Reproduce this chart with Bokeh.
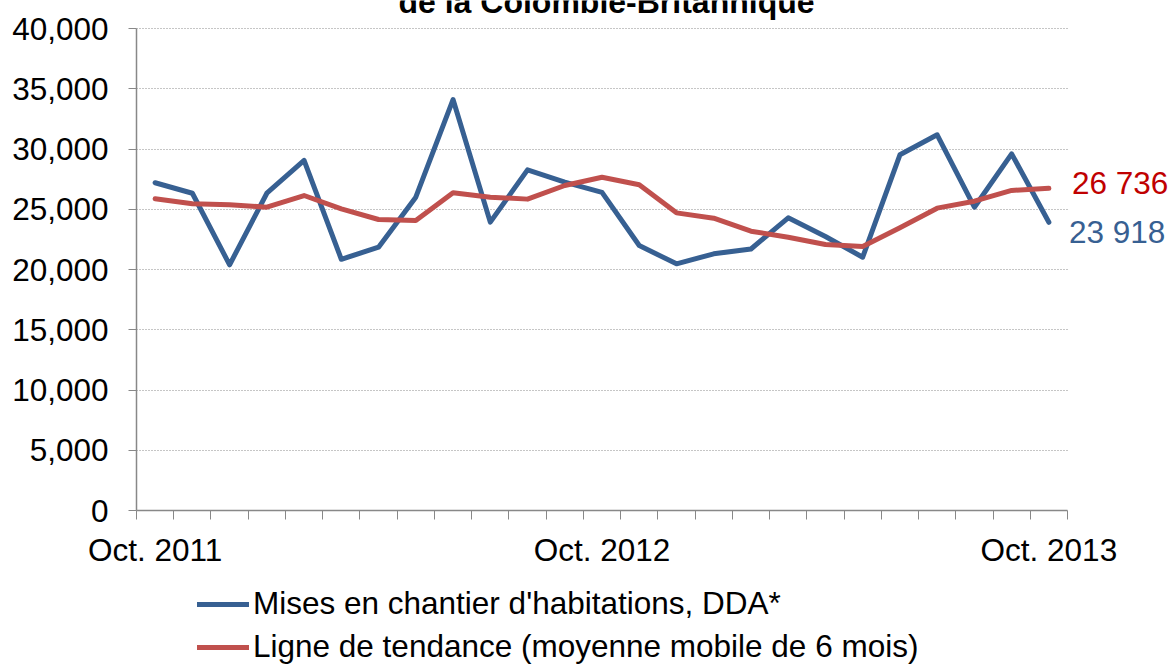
from bokeh.plotting import figure
from bokeh.layouts import column
from bokeh.models import (FixedTicker, NumeralTickFormatter, Label, Legend, LegendItem,
                          ColumnDataSource, Range1d, Grid)
from bokeh.embed import file_html
from bokeh.resources import INLINE

months = ["Oct. 2011", "Nov. 2011", "Déc. 2011", "Jan. 2012", "Févr. 2012", "Mars 2012",
          "Avr. 2012", "Mai 2012", "Juin 2012", "Juil. 2012", "Août 2012", "Sept. 2012",
          "Oct. 2012", "Nov. 2012", "Déc. 2012", "Jan. 2013", "Févr. 2013", "Mars 2013",
          "Avr. 2013", "Mai 2013", "Juin 2013", "Juil. 2013", "Août 2013", "Sept. 2013",
          "Oct. 2013"]
starts = [27200, 26330, 20390, 26330, 29050, 20850, 21850, 26000, 34100, 23930, 28270, 27250,
          26400, 21990, 20470, 21300, 21700, 24290, 22740, 21020, 29520, 31180, 25170, 29600,
          23918]
trend = [25870, 25450, 25370, 25170, 26140, 25030, 24150, 24070, 26370, 26000, 25840, 26970,
         27660, 27030, 24700, 24260, 23180, 22680, 22080, 21910, 23460, 25090, 25670, 26560,
         26736]
y_ticks = [0, 5000, 10000, 15000, 20000, 25000, 30000, 35000, 40000]
title_text = "de la Colombie-Britannique"
series_names = ["Mises en chantier d'habitations, DDA*",
                "Ligne de tendance (moyenne mobile de 6 mois)"]

BLUE = "#376092"
RED = "#C0504D"
FONT = "Liberation Sans"
FS = "31.5px"

# layout (pixels)
W, H = 1171, 664
LEFT = 136                 # left border of the chart
AXIS_BOTTOM = 510          # y of the x axis line
XAX_H = 64                 # room under the x axis for its labels
H1 = AXIS_BOTTOM + XAX_H   # main chart height; legend strip takes the rest
AXIS_W, AXIS_H = 931, 482  # length of the drawn axes
n = len(months)
x_lo, y_lo, y_hi = -0.5, 0, 40000
x_hi_axis = n - 0.5
x_end = x_lo + (W - LEFT) * (x_hi_axis - x_lo) / AXIS_W
y_end = y_hi * AXIS_BOTTOM / AXIS_H

idx = list(range(n))
src = ColumnDataSource(dict(x=idx, starts=starts, trend=trend))

p = figure(width=W, height=H1, output_backend="svg", toolbar_location=None,
           x_range=Range1d(x_lo, x_end), y_range=Range1d(y_lo, y_end),
           min_border_left=LEFT, min_border_right=0, min_border_top=0, min_border_bottom=XAX_H)
p.outline_line_color = None
p.background_fill_color = "white"
p.border_fill_color = "white"

p.xgrid.visible = False
p.ygrid.visible = False
if "cross_bounds" in Grid.properties():
    g = Grid(dimension=1, ticker=FixedTicker(ticks=y_ticks), cross_bounds=(x_lo, x_hi_axis),
             grid_line_color="#8c8c8c", grid_line_dash="1 2", grid_line_width=1)
    p.add_layout(g)
else:
    p.segment(x0=[x_lo] * len(y_ticks), x1=[x_hi_axis] * len(y_ticks), y0=y_ticks, y1=y_ticks,
              line_color="#8c8c8c", line_dash="1 2", line_width=1)

# x axis
label_idx = [i for i, m in enumerate(months) if m.startswith("Oct.")]
xa = p.xaxis[0]
xa.bounds = (x_lo, x_hi_axis)
xa.ticker = FixedTicker(ticks=label_idx, minor_ticks=[i - 0.5 for i in range(n + 1)])
xa.major_label_overrides = {i: months[i] for i in label_idx}
xa.major_tick_line_color = None
xa.major_tick_out = 9
xa.major_tick_in = 0
xa.minor_tick_line_color = "#888888"
xa.minor_tick_out = 9
xa.minor_tick_in = 0
xa.axis_line_color = "#888888"
xa.axis_line_width = 1.5
xa.major_label_standoff = 12
xa.major_label_text_font = FONT
xa.major_label_text_font_size = FS
xa.major_label_text_color = "black"

# y axis
ya = p.yaxis[0]
ya.bounds = (y_lo, y_hi)
ya.ticker = FixedTicker(ticks=y_ticks)
ya.formatter = NumeralTickFormatter(format="0,0")
ya.major_tick_out = 8
ya.major_tick_in = 0
ya.minor_tick_line_color = None
ya.major_tick_line_color = "#888888"
ya.axis_line_color = "#888888"
ya.axis_line_width = 1.5
ya.major_label_standoff = 20
ya.major_label_text_font = FONT
ya.major_label_text_font_size = FS
ya.major_label_text_color = "black"

p.line("x", "starts", source=src, line_color=BLUE, line_width=5,
       line_join="round", line_cap="round")
p.line("x", "trend", source=src, line_color=RED, line_width=5,
       line_join="round", line_cap="round")

def fr(v):
    return f"{v:,}".replace(",", " ")

p.add_layout(Label(x=idx[-1], y=trend[-1], text=fr(trend[-1]), x_offset=23, y_offset=5,
                   text_baseline="middle", text_align="left", text_color="#C00000",
                   text_font=FONT, text_font_size=FS))
p.add_layout(Label(x=idx[-1], y=starts[-1], text=fr(starts[-1]), x_offset=20, y_offset=-10,
                   text_baseline="middle", text_align="left", text_color=BLUE,
                   text_font=FONT, text_font_size=FS))

p.add_layout(Label(x=470, y=AXIS_BOTTOM - 1, x_units="screen", y_units="screen", text=title_text,
                   text_align="center", text_baseline="alphabetic", text_color="black",
                   text_font=FONT, text_font_size="32px", text_font_style="bold"))

# legend strip (its frame is aligned with the chart's frame by the column layout)
p2 = figure(width=W, height=H - H1, output_backend="svg", toolbar_location=None,
            x_range=Range1d(0, 1), y_range=Range1d(0, 1),
            x_axis_location=None, y_axis_location=None,
            min_border_left=0, min_border_right=0, min_border_top=0, min_border_bottom=0)
p2.outline_line_color = None
p2.grid.visible = False
# same data, outside this strip's ranges: only the legend samples show
l1 = p2.line("x", "starts", source=src, line_color=BLUE, line_width=5, line_cap="round")
l2 = p2.line("x", "trend", source=src, line_color=RED, line_width=5, line_cap="round")
legend = Legend(items=[LegendItem(label=series_names[0], renderers=[l1]),
                       LegendItem(label=series_names[1], renderers=[l2])],
                location=(61, -1), orientation="vertical",
                glyph_width=52, glyph_height=34, label_height=34, spacing=6,
                label_standoff=4, padding=0, margin=0,
                border_line_color=None, background_fill_alpha=0,
                label_text_font=FONT, label_text_font_size=FS, label_text_color="black")
p2.add_layout(legend)

open("out.html", "w").write(file_html(column(p, p2, spacing=0), INLINE))
